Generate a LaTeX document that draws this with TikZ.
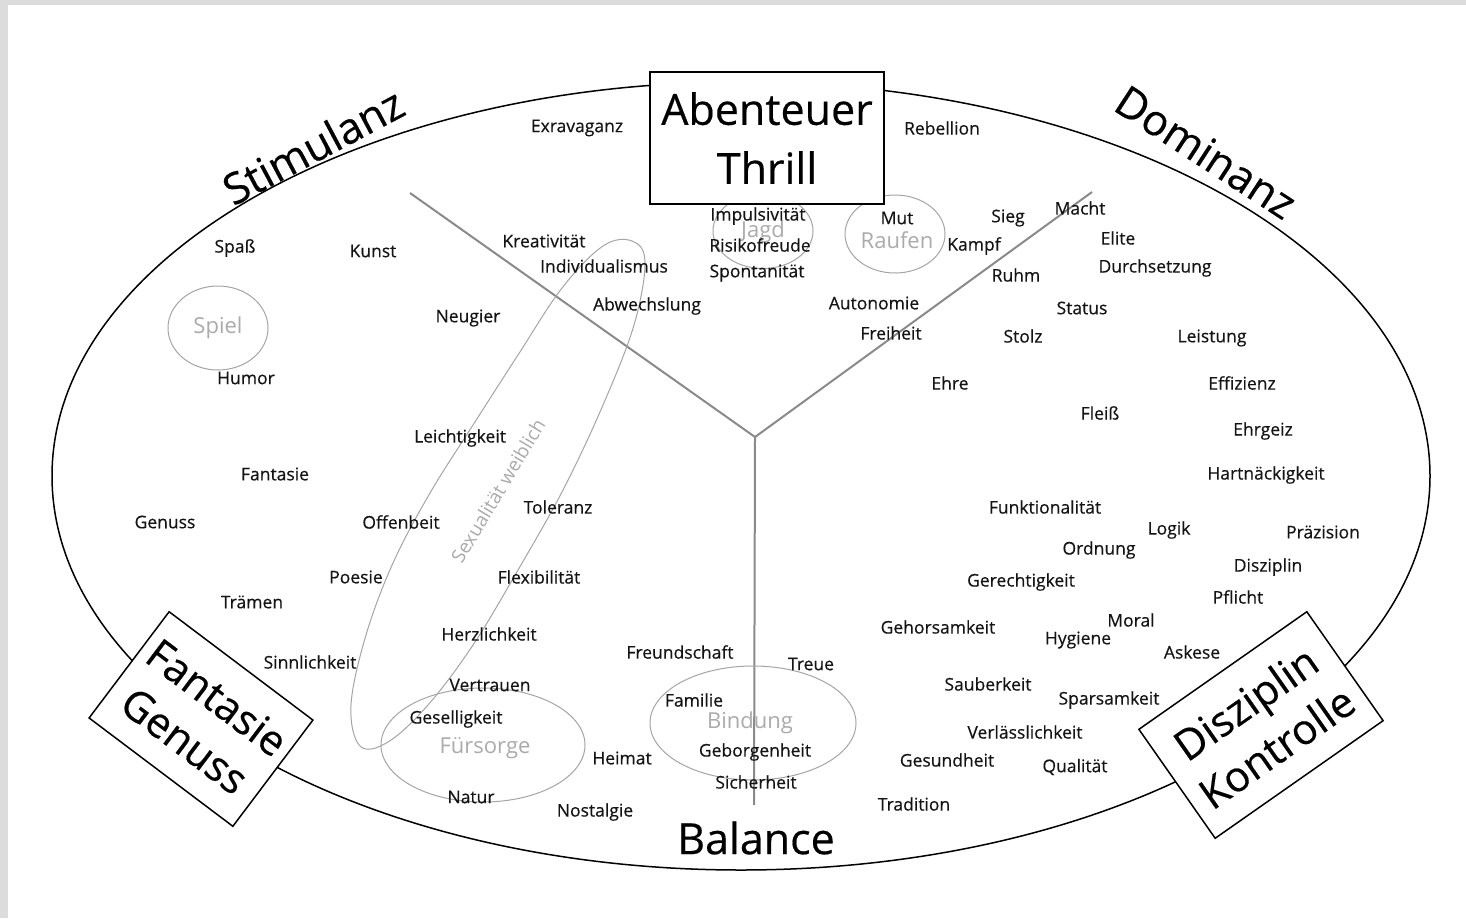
\documentclass[tikz,border=0pt]{standalone}
\usepackage{fontspec}
\setmainfont{Open Sans}
\newfontfamily\wfont{Open Sans}[FakeBold=0.4]
\usetikzlibrary{shapes.geometric}
\definecolor{framegray}{HTML}{DCDCDC}
\definecolor{txt}{HTML}{141414}
\definecolor{ylin}{HTML}{8A8A8A}
\definecolor{circ}{HTML}{A5A5A5}
\definecolor{ctext}{HTML}{ABABAB}
\begin{document}
\begin{tikzpicture}[x=1pt,y=-1pt,
  w/.style={font=\wfont\fontsize{17.5}{20}\selectfont, text=txt, inner sep=0pt},
  gl/.style={font=\fontsize{22}{26}\selectfont, text=ctext, inner sep=0pt},
  big/.style={font=\wfont\fontsize{43}{56}\selectfont, text=black, inner sep=0pt, align=center},
  bigbox/.style={draw=black, line width=1.5pt, fill=white, inner sep=0pt, align=center, font=\wfont\fontsize{42}{54}\selectfont},
  cring/.style={draw=circ, line width=1pt, ellipse, inner sep=0pt},
  yline/.style={draw=ylin, line width=2pt},
  oval/.style={draw=black, line width=1.5pt}
]
\useasboundingbox (0,0) rectangle (1466,918);
\fill[framegray] (0,0) rectangle (1466,918);
\fill[white] (8,5) rectangle (1466,918);

% outer ellipse
\draw[oval] (741,476) ellipse [x radius=689, y radius=394];

% Y lines
\coordinate (yc) at (755,437);
\coordinate (yl) at (410,193);
\coordinate (yr) at (1092,192);
\coordinate (yb) at (754,805);
\draw[yline] (yl) -- (yc) -- (yr);
\draw[yline] (yc) -- (yb);

% rings
\node[cring, minimum width=100pt, minimum height=84pt] (spielring) at (218,328) {};
\node[cring, minimum width=100pt, minimum height=75pt] (jagdring) at (763,231) {};
\node[cring, minimum width=100pt, minimum height=78pt] (raufenring) at (895,234) {};
\node[cring, minimum width=204pt, minimum height=114pt] (fuersring) at (483,745) {};
\node[cring, minimum width=206pt, minimum height=114pt] (bindring) at (753,723) {};
\draw[circ, line width=1pt] plot[smooth cycle, tension=0.6] coordinates {
 (360,746) (351,705) (366,635) (393,563) (430,493) (473,425) (518,355) (562,288)
 (603,246) (632,241) (645,262) (634,325) (603,405) (563,490) (518,570) (473,645)
 (428,705) (388,742)};

% ring labels
\node[gl] (spiel) at (218,328) {Spiel};
\node[gl] (jagd) at (763,232) {Jagd};
\node[gl] (raufen) at (897,240) {Raufen};
\node[gl] (fuersorge) at (485,748) {Fürsorge};
\node[gl] (bindung) at (750,723) {Bindung};
\node[gl, rotate=59, font=\fontsize{19}{22}\selectfont] (sexw) at (498,491) {Sexualität weiblich};

% category boxes
\node[bigbox, minimum width=234pt, minimum height=132pt, font=\wfont\fontsize{43}{59}\selectfont] (abent) at (767,138) {Abenteuer\\Thrill};
\node[bigbox, rotate=-37, minimum width=180pt, minimum height=133pt] (fantg) at (201,719) {Fantasie\\Genuss};
\node[bigbox, rotate=35, minimum width=205pt, minimum height=133pt] (diszk) at (1261,725) {Disziplin\\Kontrolle};
\node[big, rotate=28] (stim) at (313,146) {Stimulanz};
\node[big, rotate=-33] (domi) at (1206,152) {Dominanz};
\node[big] (bal) at (756,838) {Balance};

% words
\node[w] (n1) at (577,128) {Exravaganz};
\node[w] (n2) at (942,128) {Rebellion};
\node[w] (n3) at (235,248) {Spaß};
\node[w] (n4) at (373,251) {Kunst};
\node[w] (n5) at (544,241) {Kreativität};
\node[w] (n6) at (604,266) {Individualismus};
\node[w] (n7) at (647,306) {Abwechslung};
\node[w] (n8) at (468,318) {Neugier};
\node[w] (n9) at (246,378) {Humor};
\node[w] (n10) at (758,216) {Impulsivität};
\node[w] (n11) at (760,245) {Risikofreude};
\node[w] (n12) at (757,273) {Spontanität};
\node[w] (n13) at (897,218) {Mut};
\node[w] (n14) at (1008,218) {Sieg};
\node[w] (n15) at (974,246) {Kampf};
\node[w] (n16) at (1080,208) {Macht};
\node[w] (n17) at (1118,238) {Elite};
\node[w] (n18) at (1155,268) {Durchsetzung};
\node[w] (n19) at (1016,275) {Ruhm};
\node[w] (n20) at (1082,308) {Status};
\node[w] (n21) at (874,303) {Autonomie};
\node[w] (n22) at (891,333) {Freiheit};
\node[w] (n23) at (1023,336) {Stolz};
\node[w] (n24) at (1212,338) {Leistung};
\node[w] (n25) at (950,383) {Ehre};
\node[w] (n26) at (1242,383) {Effizienz};
\node[w] (n27) at (1100,413) {Fleiß};
\node[w] (n28) at (1263,431) {Ehrgeiz};
\node[w] (n29) at (1266,475) {Hartnäckigkeit};
\node[w] (n30) at (460,438) {Leichtigkeit};
\node[w] (n31) at (275,474) {Fantasie};
\node[w] (n32) at (165,522) {Genuss};
\node[w] (n33) at (401,522) {Offenbeit};
\node[w] (n34) at (558,507) {Toleranz};
\node[w] (n35) at (1045,507) {Funktionalität};
\node[w] (n36) at (1169,530) {Logik};
\node[w] (n37) at (1323,532) {Präzision};
\node[w] (n38) at (1099,550) {Ordnung};
\node[w] (n39) at (356,577) {Poesie};
\node[w] (n40) at (539,577) {Flexibilität};
\node[w] (n41) at (1021,582) {Gerechtigkeit};
\node[w] (n42) at (1268,567) {Disziplin};
\node[w] (n43) at (252,602) {Trämen};
\node[w] (n44) at (1238,597) {Pflicht};
\node[w] (n45) at (489,634) {Herzlichkeit};
\node[w] (n46) at (938,627) {Gehorsamkeit};
\node[w] (n47) at (1131,620) {Moral};
\node[w] (n48) at (1078,640) {Hygiene};
\node[w] (n49) at (1192,652) {Askese};
\node[w] (n50) at (680,652) {Freundschaft};
\node[w] (n51) at (811,664) {Treue};
\node[w] (n52) at (310,662) {Sinnlichkeit};
\node[w] (n53) at (490,685) {Vertrauen};
\node[w] (n54) at (988,684) {Sauberkeit};
\node[w] (n55) at (694,700) {Familie};
\node[w] (n56) at (1109,700) {Sparsamkeit};
\node[w] (n57) at (456,719) {Geselligkeit};
\node[w] (n58) at (1025,732) {Verlässlichkeit};
\node[w] (n59) at (755,752) {Geborgenheit};
\node[w] (n60) at (622,758) {Heimat};
\node[w] (n61) at (947,760) {Gesundheit};
\node[w] (n62) at (1075,767) {Qualität};
\node[w] (n63) at (756,782) {Sicherheit};
\node[w] (n64) at (471,797) {Natur};
\node[w] (n65) at (595,812) {Nostalgie};
\node[w] (n66) at (914,804) {Tradition};
\end{tikzpicture}
\end{document}
